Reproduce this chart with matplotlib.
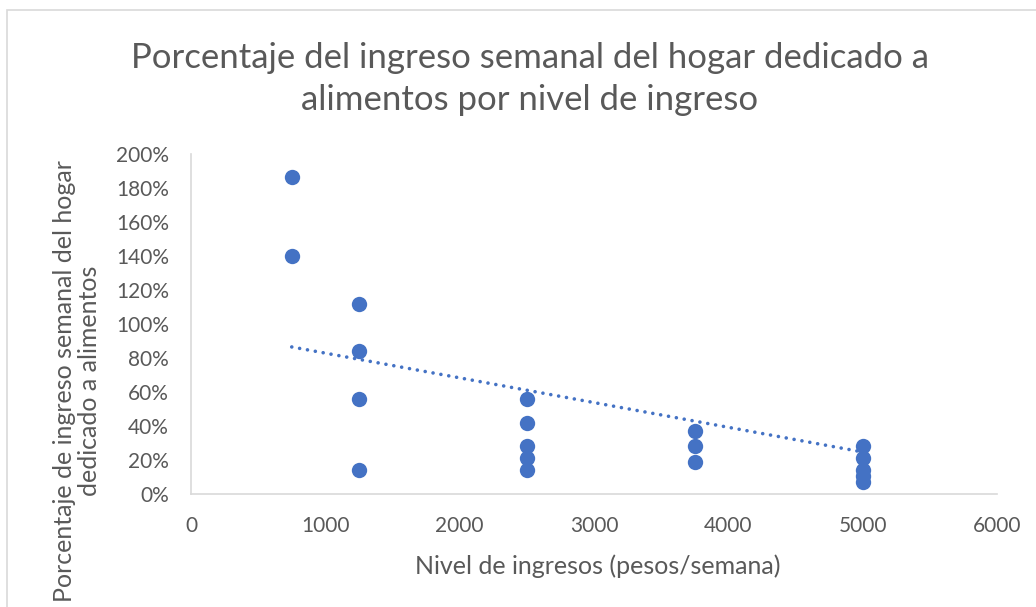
import numpy as np
import matplotlib
matplotlib.use("Agg")
import matplotlib.pyplot as plt
from matplotlib.ticker import FuncFormatter
from matplotlib.patches import Rectangle

# Data (income level in pesos/week, share of income spent on food)
income = [750, 750, 1250, 1250, 1250, 1250,
          2500, 2500, 2500, 2500, 2500,
          3750, 3750, 3750,
          5000, 5000, 5000, 5000, 5000]
share = [1.867, 1.40, 1.12, 0.84, 0.56, 0.14,
         0.56, 0.42, 0.28, 0.21, 0.14,
         0.373, 0.28, 0.187,
         0.28, 0.21, 0.14, 0.105, 0.07]
# Linear trendline (value at its two ends)
trend_x = [750, 5000]
trend_y = [0.865, 0.247]

x_ticks = [0, 1000, 2000, 3000, 4000, 5000, 6000]
y_ticks = [0, 0.2, 0.4, 0.6, 0.8, 1.0, 1.2, 1.4, 1.6, 1.8, 2.0]

title = "Porcentaje del ingreso semanal del hogar dedicado a\nalimentos por nivel de ingreso"
xlabel = "Nivel de ingresos (pesos/semana)"
ylabel = "Porcentaje de ingreso semanal del hogar\ndedicado a alimentos"

plt.rcParams['font.family'] = ['Lato', 'DejaVu Sans']
color = '#4472C4'
text_color = '#595959'
line_gray = '#D9D9D9'

W, H = 1036, 607
fig = plt.figure(figsize=(W / 100, H / 100), dpi=100)
ax = fig.add_axes([191 / W, 1 - 494 / H, (997 - 191) / W, (494 - 154) / H])

# chart border
fig.patches.append(Rectangle((7 / W, -0.1), 1.2, 1 - 10 / H + 0.1, transform=fig.transFigure,
                             fill=False, edgecolor=line_gray, linewidth=1.2))

ax.scatter(income, share, s=122, color=color, zorder=3, linewidths=0)

ax.plot(trend_x, trend_y, linestyle=(0, (0.01, 2.2)), dash_capstyle='round',
        color=color, linewidth=2.6, zorder=2)

ax.set_xlim(0, 6000)
ax.set_ylim(0, 2.0)
ax.set_xticks(x_ticks)
ax.set_yticks(y_ticks)
ax.yaxis.set_major_formatter(FuncFormatter(lambda v, p: f"{v * 100:.0f}%"))
for s in ['top', 'right']:
    ax.spines[s].set_visible(False)
for s in ['bottom', 'left']:
    ax.spines[s].set_color(line_gray)
    ax.spines[s].set_linewidth(1.2)
ax.tick_params(axis='both', length=0, labelsize=15, colors=text_color)
ax.tick_params(axis='x', pad=16)
ax.tick_params(axis='y', pad=16)

fig.text(530 / W, 1 - 79 / H, title, ha='center', va='center', fontsize=25,
         color=text_color, linespacing=1.38)
fig.text(598 / W, 1 - 566 / H, xlabel, ha='center', va='center', fontsize=18, color=text_color)
fig.text(77 / W, 1 - 381 / H, ylabel, ha='center', va='center', fontsize=18,
         color=text_color, rotation=90, linespacing=1.15)

fig.savefig("out.png", dpi=100)
